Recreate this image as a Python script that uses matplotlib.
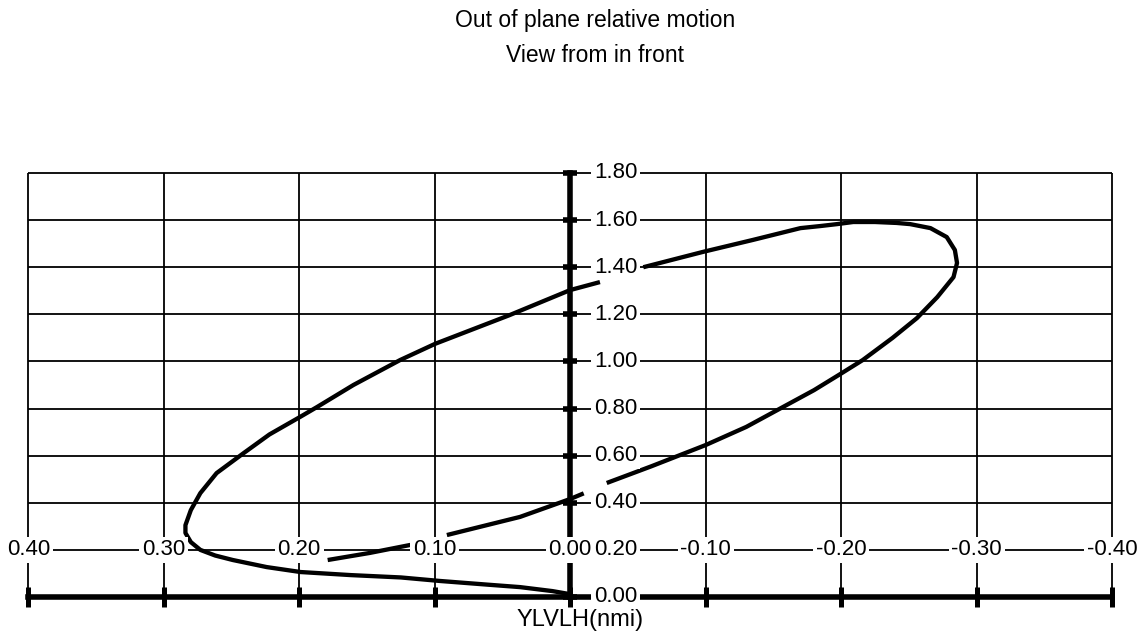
import matplotlib.pyplot as plt
import numpy as np

nan = np.nan

# relative position, nmi (gaps = breaks in the drawn trace)
ylvlh = [0.179, 0.148, 0.118, nan,
         0.091, 0.037, 0.000, -0.010, nan,
         -0.027, -0.060, -0.100, -0.130, -0.155, -0.180, -0.199, -0.216, -0.238,
         -0.256, -0.271, -0.283, -0.2856, -0.284, -0.278, -0.266, -0.251, -0.241,
         -0.225, -0.209, -0.197, -0.185, -0.170, -0.135, -0.098, -0.054, nan,
         -0.022, 0.000, 0.045, 0.0996, 0.1255, 0.160, 0.187, 0.1995, 0.222, 0.241,
         0.261, 0.273, 0.280, 0.284, 0.284, 0.280, 0.273, 0.262, 0.249, 0.224,
         0.199, 0.162, 0.125, 0.096, 0.060, 0.037, 0.013, 0.000]
zlvlh = [0.157, 0.187, 0.221, nan,
         0.263, 0.340, 0.416, 0.440, nan,
         0.484, 0.555, 0.645, 0.722, 0.800, 0.878, 0.945, 1.006, 1.100,
         1.184, 1.273, 1.358, 1.418, 1.473, 1.528, 1.566, 1.583, 1.588,
         1.592, 1.592, 1.583, 1.575, 1.566, 1.516, 1.465, 1.400, nan,
         1.337, 1.303, 1.196, 1.075, 1.006, 0.900, 0.806, 0.764, 0.690, 0.611,
         0.526, 0.441, 0.369, 0.305, 0.272, 0.233, 0.200, 0.176, 0.157, 0.127,
         0.106, 0.093, 0.083, 0.068, 0.052, 0.042, 0.025, 0.012]

xticks = [0.4, 0.3, 0.2, 0.1, 0.0, -0.1, -0.2, -0.3, -0.4]
xtick_labels = ['0.40', '0.30', '0.20', '0.10', '0.00', '-0.10', '-0.20', '-0.30', '-0.40']
yticks = [0.0, 0.2, 0.4, 0.6, 0.8, 1.0, 1.2, 1.4, 1.6, 1.8]
ytick_labels = ['0.00', '0.20', '0.40', '0.60', '0.80', '1.00', '1.20', '1.40', '1.60', '1.80']

font = ['Liberation Sans', 'DejaVu Sans']

fig = plt.figure(figsize=(11.41, 6.36), dpi=100)
ax = fig.add_axes([28.3 / 1141, 1 - 597 / 636, (1112 - 28.3) / 1141, (597 - 173) / 636])
ax.set_xlim(0.4, -0.4)
ax.set_ylim(0, 1.8)

# grid
ax.vlines(xticks, 0, 1.8, colors='black', lw=1.3, clip_on=False, zorder=1)
ax.hlines(yticks, 0.4, -0.4, colors='black', lw=1.3, clip_on=False, zorder=1)

# the trace
ax.plot(ylvlh, zlvlh, color='black', lw=3.1, solid_joinstyle='round',
        solid_capstyle='butt', zorder=2)

# axes crossing at the origin
for s in ['top', 'right']:
    ax.spines[s].set_visible(False)
ax.spines['left'].set_position(('data', 0))
ax.spines['bottom'].set_position(('data', 0))
ax.spines['left'].set_linewidth(4)
ax.spines['bottom'].set_linewidth(4)
ax.set_xticks(xticks)
ax.set_yticks(yticks)
ax.tick_params(axis='x', direction='inout', length=14, width=3.6, labelbottom=False)
ax.tick_params(axis='y', direction='inout', length=9.5, width=4, labelleft=False)

box = dict(boxstyle='square,pad=0.12', fc='white', ec='none')
for v, lab in zip(xticks, xtick_labels):
    ax.text(v, 0.2, lab, ha='center', va='center', fontsize=16, family=font,
            bbox=box, zorder=5)
for v, lab in zip(yticks, ytick_labels):
    ax.annotate(lab, xy=(0, v), xytext=(24, 0), textcoords='offset pixels',
                ha='left', va='center', fontsize=16, family=font,
                bbox=box, zorder=5)

fig.text(595 / 1141, 1 - 21 / 636, 'Out of plane relative motion', ha='center',
         va='center', fontsize=16.5, family=font)
fig.text(595 / 1141, 1 - 56 / 636, 'View from in front', ha='center',
         va='center', fontsize=16.5, family=font)
fig.text(580 / 1141, 1 - 620 / 636, 'YLVLH(nmi)', ha='center', va='center',
         fontsize=17, family=font)

fig.savefig('out.png', dpi=100)
